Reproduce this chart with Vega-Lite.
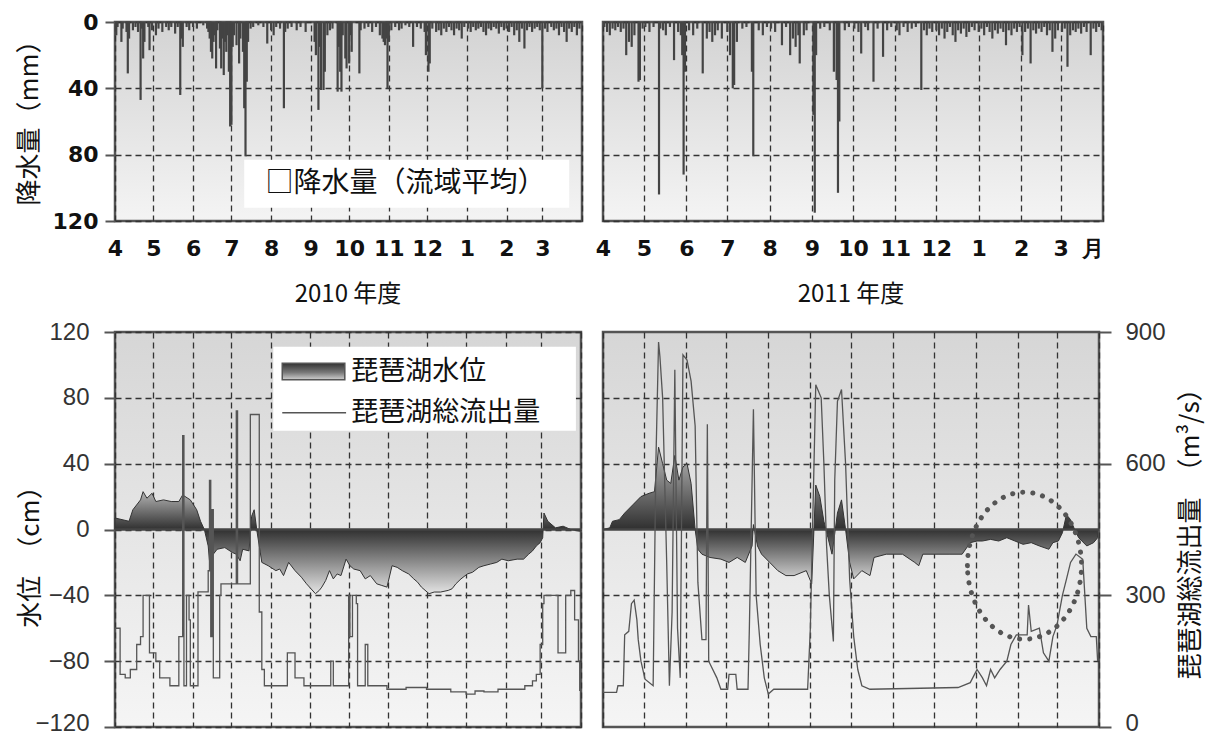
{
"$schema": "https://vega.github.io/schema/vega-lite/v6.json",
"background": "white",
"padding": {"left": 14, "top": 9, "right": 0, "bottom": 0},
"columns": 2,
"align": "none",
"bounds": "flush",
"spacing": {"row": 111, "column": 21},
"datasets": {
"rain2010": [
{"d":"2010-04-02","v":8},{"d":"2010-04-03","v":3},{"d":"2010-04-06","v":12},{"d":"2010-04-07","v":4},{"d":"2010-04-10","v":6},{"d":"2010-04-11","v":31},{"d":"2010-04-12","v":10},{"d":"2010-04-15","v":5},{"d":"2010-04-17","v":3},{"d":"2010-04-19","v":6},{"d":"2010-04-21","v":47},{"d":"2010-04-22","v":4},{"d":"2010-04-23","v":22},{"d":"2010-04-24","v":12},{"d":"2010-04-27","v":3},{"d":"2010-04-28","v":17},{"d":"2010-04-30","v":5},
{"d":"2010-05-03","v":8},{"d":"2010-05-05","v":4},{"d":"2010-05-08","v":6},{"d":"2010-05-11","v":3},{"d":"2010-05-13","v":5},{"d":"2010-05-15","v":3},{"d":"2010-05-18","v":7},{"d":"2010-05-20","v":3},{"d":"2010-05-22","v":44},{"d":"2010-05-23","v":10},{"d":"2010-05-24","v":15},{"d":"2010-05-27","v":3},{"d":"2010-05-29","v":5},
{"d":"2010-06-01","v":3},{"d":"2010-06-04","v":4},{"d":"2010-06-09","v":2},{"d":"2010-06-12","v":4},{"d":"2010-06-13","v":6},{"d":"2010-06-14","v":10},{"d":"2010-06-15","v":18},{"d":"2010-06-16","v":22},{"d":"2010-06-17","v":12},{"d":"2010-06-18","v":8},{"d":"2010-06-19","v":28},{"d":"2010-06-20","v":5},{"d":"2010-06-22","v":16},{"d":"2010-06-23","v":28},{"d":"2010-06-24","v":10},{"d":"2010-06-25","v":32},{"d":"2010-06-26","v":12},{"d":"2010-06-27","v":18},{"d":"2010-06-28","v":8},{"d":"2010-06-29","v":30},{"d":"2010-06-30","v":63},
{"d":"2010-07-01","v":62},{"d":"2010-07-02","v":15},{"d":"2010-07-03","v":8},{"d":"2010-07-05","v":14},{"d":"2010-07-07","v":25},{"d":"2010-07-08","v":10},{"d":"2010-07-10","v":18},{"d":"2010-07-11","v":52},{"d":"2010-07-12","v":81},{"d":"2010-07-13","v":36},{"d":"2010-07-14","v":12},{"d":"2010-07-16","v":4},{"d":"2010-07-18","v":3},{"d":"2010-07-22","v":2},{"d":"2010-07-26","v":3},{"d":"2010-07-29","v":13},
{"d":"2010-08-01","v":5},{"d":"2010-08-03","v":8},{"d":"2010-08-05","v":3},{"d":"2010-08-08","v":4},{"d":"2010-08-11","v":52},{"d":"2010-08-12","v":6},{"d":"2010-08-14","v":4},{"d":"2010-08-17","v":3},{"d":"2010-08-21","v":5},{"d":"2010-08-24","v":3},{"d":"2010-08-28","v":6},
{"d":"2010-09-04","v":12},{"d":"2010-09-05","v":20},{"d":"2010-09-07","v":53},{"d":"2010-09-08","v":15},{"d":"2010-09-09","v":41},{"d":"2010-09-11","v":41},{"d":"2010-09-12","v":30},{"d":"2010-09-14","v":8},{"d":"2010-09-16","v":5},{"d":"2010-09-18","v":4},{"d":"2010-09-22","v":42},{"d":"2010-09-23","v":15},{"d":"2010-09-24","v":30},{"d":"2010-09-25","v":42},{"d":"2010-09-26","v":8},{"d":"2010-09-28","v":22},{"d":"2010-09-29","v":28},
{"d":"2010-10-01","v":25},{"d":"2010-10-02","v":8},{"d":"2010-10-03","v":18},{"d":"2010-10-09","v":31},{"d":"2010-10-10","v":5},{"d":"2010-10-13","v":4},{"d":"2010-10-16","v":3},{"d":"2010-10-19","v":6},{"d":"2010-10-22","v":3},{"d":"2010-10-25","v":8},{"d":"2010-10-27","v":10},{"d":"2010-10-28","v":12},{"d":"2010-10-29","v":14},{"d":"2010-10-30","v":10},{"d":"2010-10-31","v":40},
{"d":"2010-11-01","v":12},{"d":"2010-11-03","v":5},{"d":"2010-11-06","v":3},{"d":"2010-11-09","v":5},{"d":"2010-11-11","v":4},{"d":"2010-11-14","v":2},{"d":"2010-11-17","v":3},{"d":"2010-11-20","v":15},{"d":"2010-11-23","v":3},{"d":"2010-11-26","v":4},{"d":"2010-11-29","v":6},{"d":"2010-11-30","v":20},
{"d":"2010-12-02","v":30},{"d":"2010-12-03","v":25},{"d":"2010-12-05","v":4},{"d":"2010-12-08","v":6},{"d":"2010-12-10","v":5},{"d":"2010-12-12","v":8},{"d":"2010-12-14","v":4},{"d":"2010-12-16","v":6},{"d":"2010-12-18","v":3},{"d":"2010-12-20","v":5},{"d":"2010-12-22","v":8},{"d":"2010-12-24","v":4},{"d":"2010-12-26","v":5},{"d":"2010-12-28","v":10},{"d":"2010-12-30","v":3},
{"d":"2011-01-02","v":4},{"d":"2011-01-04","v":6},{"d":"2011-01-06","v":3},{"d":"2011-01-08","v":5},{"d":"2011-01-10","v":4},{"d":"2011-01-12","v":3},{"d":"2011-01-14","v":6},{"d":"2011-01-16","v":8},{"d":"2011-01-18","v":4},{"d":"2011-01-20","v":5},{"d":"2011-01-22","v":3},{"d":"2011-01-24","v":4},{"d":"2011-01-26","v":7},{"d":"2011-01-28","v":3},{"d":"2011-01-30","v":5},
{"d":"2011-02-01","v":4},{"d":"2011-02-03","v":6},{"d":"2011-02-05","v":3},{"d":"2011-02-07","v":8},{"d":"2011-02-09","v":5},{"d":"2011-02-11","v":12},{"d":"2011-02-13","v":4},{"d":"2011-02-15","v":16},{"d":"2011-02-17","v":5},{"d":"2011-02-19","v":3},{"d":"2011-02-21","v":6},{"d":"2011-02-23","v":4},{"d":"2011-02-25","v":3},{"d":"2011-02-27","v":5},
{"d":"2011-03-01","v":40},{"d":"2011-03-03","v":4},{"d":"2011-03-05","v":6},{"d":"2011-03-08","v":3},{"d":"2011-03-10","v":5},{"d":"2011-03-12","v":4},{"d":"2011-03-14","v":8},{"d":"2011-03-16","v":3},{"d":"2011-03-18","v":6},{"d":"2011-03-20","v":12},{"d":"2011-03-22","v":4},{"d":"2011-03-24","v":6},{"d":"2011-03-26","v":3},{"d":"2011-03-28","v":8},{"d":"2011-03-30","v":4}
],
"rain2011": [
{"d":"2011-04-02","v":3},{"d":"2011-04-04","v":6},{"d":"2011-04-06","v":8},{"d":"2011-04-08","v":4},{"d":"2011-04-10","v":5},{"d":"2011-04-12","v":3},{"d":"2011-04-14","v":6},{"d":"2011-04-16","v":4},{"d":"2011-04-18","v":20},{"d":"2011-04-20","v":12},{"d":"2011-04-22","v":15},{"d":"2011-04-24","v":8},{"d":"2011-04-27","v":36},{"d":"2011-04-28","v":35},{"d":"2011-04-30","v":4},
{"d":"2011-05-02","v":3},{"d":"2011-05-05","v":6},{"d":"2011-05-08","v":3},{"d":"2011-05-12","v":104},{"d":"2011-05-13","v":4},{"d":"2011-05-15","v":5},{"d":"2011-05-17","v":8},{"d":"2011-05-20","v":3},{"d":"2011-05-23","v":23},{"d":"2011-05-26","v":6},{"d":"2011-05-28","v":8},{"d":"2011-05-29","v":20},{"d":"2011-05-30","v":92},{"d":"2011-05-31","v":30},
{"d":"2011-06-03","v":5},{"d":"2011-06-06","v":8},{"d":"2011-06-09","v":4},{"d":"2011-06-13","v":31},{"d":"2011-06-16","v":10},{"d":"2011-06-18","v":6},{"d":"2011-06-20","v":12},{"d":"2011-06-22","v":8},{"d":"2011-06-24","v":5},{"d":"2011-06-27","v":10},
{"d":"2011-07-01","v":6},{"d":"2011-07-03","v":20},{"d":"2011-07-05","v":40},{"d":"2011-07-06","v":38},{"d":"2011-07-08","v":12},{"d":"2011-07-12","v":4},{"d":"2011-07-15","v":3},{"d":"2011-07-19","v":30},{"d":"2011-07-20","v":81},{"d":"2011-07-24","v":5},{"d":"2011-07-27","v":8},{"d":"2011-07-30","v":3},
{"d":"2011-08-02","v":4},{"d":"2011-08-05","v":6},{"d":"2011-08-10","v":14},{"d":"2011-08-13","v":3},{"d":"2011-08-16","v":20},{"d":"2011-08-18","v":10},{"d":"2011-08-20","v":15},{"d":"2011-08-22","v":8},{"d":"2011-08-23","v":25},{"d":"2011-08-26","v":8},{"d":"2011-08-28","v":5},
{"d":"2011-09-02","v":56},{"d":"2011-09-03","v":115},{"d":"2011-09-04","v":20},{"d":"2011-09-07","v":4},{"d":"2011-09-10","v":3},{"d":"2011-09-14","v":5},{"d":"2011-09-17","v":30},{"d":"2011-09-19","v":35},{"d":"2011-09-20","v":103},{"d":"2011-09-21","v":60},{"d":"2011-09-25","v":5},{"d":"2011-09-28","v":3},
{"d":"2011-10-02","v":4},{"d":"2011-10-05","v":6},{"d":"2011-10-07","v":19},{"d":"2011-10-10","v":3},{"d":"2011-10-12","v":5},{"d":"2011-10-16","v":36},{"d":"2011-10-19","v":4},{"d":"2011-10-23","v":21},{"d":"2011-10-26","v":5},{"d":"2011-10-29","v":3},
{"d":"2011-11-02","v":5},{"d":"2011-11-04","v":8},{"d":"2011-11-07","v":3},{"d":"2011-11-10","v":6},{"d":"2011-11-13","v":4},{"d":"2011-11-16","v":3},{"d":"2011-11-20","v":41},{"d":"2011-11-22","v":5},{"d":"2011-11-24","v":8},{"d":"2011-11-26","v":4},{"d":"2011-11-28","v":6},
{"d":"2011-12-01","v":5},{"d":"2011-12-03","v":8},{"d":"2011-12-05","v":4},{"d":"2011-12-07","v":10},{"d":"2011-12-09","v":6},{"d":"2011-12-11","v":3},{"d":"2011-12-13","v":8},{"d":"2011-12-15","v":12},{"d":"2011-12-17","v":5},{"d":"2011-12-19","v":7},{"d":"2011-12-21","v":4},{"d":"2011-12-23","v":9},{"d":"2011-12-25","v":6},{"d":"2011-12-27","v":3},{"d":"2011-12-29","v":5},
{"d":"2012-01-01","v":6},{"d":"2012-01-03","v":4},{"d":"2012-01-05","v":8},{"d":"2012-01-07","v":3},{"d":"2012-01-09","v":6},{"d":"2012-01-11","v":10},{"d":"2012-01-13","v":5},{"d":"2012-01-15","v":7},{"d":"2012-01-17","v":4},{"d":"2012-01-19","v":6},{"d":"2012-01-21","v":14},{"d":"2012-01-23","v":5},{"d":"2012-01-25","v":8},{"d":"2012-01-27","v":4},{"d":"2012-01-29","v":6},{"d":"2012-01-31","v":3},
{"d":"2012-02-02","v":20},{"d":"2012-02-04","v":6},{"d":"2012-02-06","v":4},{"d":"2012-02-08","v":25},{"d":"2012-02-10","v":5},{"d":"2012-02-12","v":7},{"d":"2012-02-14","v":4},{"d":"2012-02-16","v":6},{"d":"2012-02-18","v":3},{"d":"2012-02-20","v":8},{"d":"2012-02-22","v":5},{"d":"2012-02-24","v":18},{"d":"2012-02-26","v":10},{"d":"2012-02-28","v":5},
{"d":"2012-03-02","v":6},{"d":"2012-03-04","v":4},{"d":"2012-03-06","v":27},{"d":"2012-03-08","v":8},{"d":"2012-03-10","v":5},{"d":"2012-03-12","v":6},{"d":"2012-03-14","v":4},{"d":"2012-03-16","v":7},{"d":"2012-03-18","v":3},{"d":"2012-03-20","v":6},{"d":"2012-03-23","v":20},{"d":"2012-03-25","v":4},{"d":"2012-03-27","v":6},{"d":"2012-03-29","v":3},{"d":"2012-03-31","v":5}
],
"level2010": [
{"d":"2010-04-01","h":7},{"d":"2010-04-12","h":5},{"d":"2010-04-15","h":12},{"d":"2010-04-21","h":18},{"d":"2010-04-23","h":23},{"d":"2010-04-26","h":19},{"d":"2010-04-30","h":22},{"d":"2010-05-03","h":17},{"d":"2010-05-09","h":18},{"d":"2010-05-15","h":17},{"d":"2010-05-21","h":17},{"d":"2010-05-24","h":21},{"d":"2010-05-30","h":18},{"d":"2010-06-04","h":12},{"d":"2010-06-07","h":5},{"d":"2010-06-10","h":0},{"d":"2010-06-13","h":-10},{"d":"2010-06-14","h":-19},{"d":"2010-06-17","h":-15},{"d":"2010-06-20","h":-12},{"d":"2010-06-26","h":-11},{"d":"2010-07-02","h":-14},{"d":"2010-07-05","h":-15},{"d":"2010-07-08","h":-19},{"d":"2010-07-10","h":-12},{"d":"2010-07-15","h":-13},{"d":"2010-07-17","h":8},{"d":"2010-07-19","h":12},{"d":"2010-07-21","h":0},{"d":"2010-07-25","h":-20},{"d":"2010-07-30","h":-22},{"d":"2010-08-05","h":-25},{"d":"2010-08-08","h":-24},{"d":"2010-08-11","h":-28},{"d":"2010-08-15","h":-20},{"d":"2010-08-20","h":-25},{"d":"2010-08-25","h":-29},{"d":"2010-08-29","h":-33},{"d":"2010-09-05","h":-39},{"d":"2010-09-08","h":-37},{"d":"2010-09-10","h":-35},{"d":"2010-09-13","h":-31},{"d":"2010-09-16","h":-25},{"d":"2010-09-19","h":-30},{"d":"2010-09-22","h":-27},{"d":"2010-09-25","h":-28},{"d":"2010-09-29","h":-18},{"d":"2010-10-02","h":-22},{"d":"2010-10-05","h":-24},{"d":"2010-10-10","h":-25},{"d":"2010-10-14","h":-30},{"d":"2010-10-18","h":-28},{"d":"2010-10-23","h":-33},{"d":"2010-10-27","h":-34},{"d":"2010-10-31","h":-35},{"d":"2010-11-04","h":-22},{"d":"2010-11-08","h":-23},{"d":"2010-11-12","h":-25},{"d":"2010-11-17","h":-27},{"d":"2010-11-21","h":-30},{"d":"2010-11-24","h":-32},{"d":"2010-11-27","h":-35},{"d":"2010-12-03","h":-39},{"d":"2010-12-07","h":-38},{"d":"2010-12-12","h":-38},{"d":"2010-12-18","h":-37},{"d":"2010-12-21","h":-36},{"d":"2010-12-24","h":-33},{"d":"2010-12-28","h":-30},{"d":"2011-01-02","h":-27},{"d":"2011-01-06","h":-26},{"d":"2011-01-11","h":-23},{"d":"2011-01-15","h":-22},{"d":"2011-01-20","h":-21},{"d":"2011-01-25","h":-20},{"d":"2011-01-29","h":-18},{"d":"2011-02-03","h":-19},{"d":"2011-02-10","h":-18},{"d":"2011-02-15","h":-18},{"d":"2011-02-19","h":-15},{"d":"2011-02-22","h":-13},{"d":"2011-02-25","h":-10},{"d":"2011-02-28","h":-8},{"d":"2011-03-02","h":-5},{"d":"2011-03-03","h":10},{"d":"2011-03-06","h":5},{"d":"2011-03-12","h":1},{"d":"2011-03-18","h":2},{"d":"2011-03-24","h":0},{"d":"2011-03-31","h":-1}
],
"flow2010": [
{"d":"2010-04-01","q":225},{"d":"2010-04-05","q":120},{"d":"2010-04-09","q":112},{"d":"2010-04-13","q":131},{"d":"2010-04-18","q":188},{"d":"2010-04-21","q":206},{"d":"2010-04-23","q":300},{"d":"2010-04-28","q":169},{"d":"2010-05-03","q":150},{"d":"2010-05-06","q":112},{"d":"2010-05-14","q":94},{"d":"2010-05-21","q":206},{"d":"2010-05-24","q":664},{"d":"2010-05-25","q":94},{"d":"2010-05-27","q":300},{"d":"2010-05-29","q":244},{"d":"2010-05-30","q":94},{"d":"2010-06-05","q":308},{"d":"2010-06-13","q":356},{"d":"2010-06-14","q":562},{"d":"2010-06-15","q":206},{"d":"2010-06-16","q":495},{"d":"2010-06-17","q":112},{"d":"2010-06-22","q":300},{"d":"2010-06-23","q":326},{"d":"2010-07-05","q":720},{"d":"2010-07-06","q":326},{"d":"2010-07-16","q":712},{"d":"2010-07-23","q":262},{"d":"2010-07-25","q":131},{"d":"2010-07-27","q":94},{"d":"2010-08-14","q":169},{"d":"2010-08-20","q":112},{"d":"2010-08-27","q":94},{"d":"2010-09-17","q":150},{"d":"2010-09-19","q":94},{"d":"2010-10-01","q":300},{"d":"2010-10-02","q":206},{"d":"2010-10-04","q":300},{"d":"2010-10-07","q":281},{"d":"2010-10-08","q":94},{"d":"2010-10-14","q":188},{"d":"2010-10-16","q":94},{"d":"2010-10-31","q":86},{"d":"2010-11-15","q":90},{"d":"2010-12-01","q":86},{"d":"2010-12-20","q":80},{"d":"2011-01-01","q":75},{"d":"2011-01-08","q":82},{"d":"2011-01-15","q":80},{"d":"2011-01-26","q":86},{"d":"2011-02-13","q":86},{"d":"2011-02-16","q":94},{"d":"2011-02-22","q":105},{"d":"2011-02-25","q":120},{"d":"2011-02-28","q":188},{"d":"2011-03-02","q":281},{"d":"2011-03-03","q":300},{"d":"2011-03-14","q":169},{"d":"2011-03-20","q":300},{"d":"2011-03-24","q":311},{"d":"2011-03-27","q":244},{"d":"2011-03-30","q":150},{"d":"2011-03-31","q":82}
],
"level2011": [
{"d":"2011-04-01","h":0},{"d":"2011-04-06","h":1},{"d":"2011-04-08","h":5},{"d":"2011-04-13","h":6},{"d":"2011-04-17","h":10},{"d":"2011-04-23","h":15},{"d":"2011-04-29","h":20},{"d":"2011-05-05","h":22},{"d":"2011-05-09","h":23},{"d":"2011-05-12","h":50},{"d":"2011-05-15","h":40},{"d":"2011-05-18","h":30},{"d":"2011-05-21","h":28},{"d":"2011-05-24","h":45},{"d":"2011-05-27","h":30},{"d":"2011-05-30","h":38},{"d":"2011-06-02","h":40},{"d":"2011-06-05","h":28},{"d":"2011-06-08","h":0},{"d":"2011-06-10","h":-12},{"d":"2011-06-13","h":-15},{"d":"2011-06-19","h":-17},{"d":"2011-06-27","h":-18},{"d":"2011-07-03","h":-20},{"d":"2011-07-09","h":-17},{"d":"2011-07-15","h":-20},{"d":"2011-07-20","h":-10},{"d":"2011-07-21","h":3},{"d":"2011-07-24","h":-10},{"d":"2011-07-27","h":-15},{"d":"2011-08-02","h":-20},{"d":"2011-08-08","h":-25},{"d":"2011-08-14","h":-28},{"d":"2011-08-20","h":-28},{"d":"2011-08-29","h":-25},{"d":"2011-09-02","h":-33},{"d":"2011-09-05","h":27},{"d":"2011-09-08","h":20},{"d":"2011-09-11","h":5},{"d":"2011-09-14","h":-5},{"d":"2011-09-17","h":-15},{"d":"2011-09-21","h":10},{"d":"2011-09-24","h":18},{"d":"2011-09-27","h":0},{"d":"2011-09-30","h":-20},{"d":"2011-10-03","h":-30},{"d":"2011-10-09","h":-25},{"d":"2011-10-15","h":-28},{"d":"2011-10-18","h":-17},{"d":"2011-10-27","h":-15},{"d":"2011-11-08","h":-15},{"d":"2011-11-17","h":-20},{"d":"2011-11-20","h":-22},{"d":"2011-11-23","h":-15},{"d":"2011-12-02","h":-15},{"d":"2011-12-13","h":-15},{"d":"2011-12-22","h":-15},{"d":"2011-12-28","h":-8},{"d":"2012-01-02","h":-7},{"d":"2012-01-06","h":-7},{"d":"2012-01-12","h":-6},{"d":"2012-01-18","h":-7},{"d":"2012-01-24","h":-5},{"d":"2012-01-30","h":-7},{"d":"2012-02-05","h":-9},{"d":"2012-02-11","h":-8},{"d":"2012-02-17","h":-10},{"d":"2012-02-24","h":-12},{"d":"2012-02-27","h":-8},{"d":"2012-03-02","h":-7},{"d":"2012-03-05","h":-2},{"d":"2012-03-08","h":9},{"d":"2012-03-11","h":6},{"d":"2012-03-14","h":0},{"d":"2012-03-17","h":-5},{"d":"2012-03-23","h":-10},{"d":"2012-03-28","h":-8},{"d":"2012-03-31","h":-5}
],
"flow2011": [
{"d":"2011-04-01","q":79},{"d":"2011-04-11","q":79},{"d":"2011-04-12","q":94},{"d":"2011-04-16","q":94},{"d":"2011-04-17","q":210},{"d":"2011-04-20","q":218},{"d":"2011-04-22","q":281},{"d":"2011-04-24","q":289},{"d":"2011-04-26","q":244},{"d":"2011-04-27","q":199},{"d":"2011-04-29","q":150},{"d":"2011-05-02","q":109},{"d":"2011-05-08","q":94},{"d":"2011-05-10","q":600},{"d":"2011-05-12","q":877},{"d":"2011-05-13","q":844},{"d":"2011-05-15","q":750},{"d":"2011-05-18","q":375},{"d":"2011-05-20","q":94},{"d":"2011-05-22","q":262},{"d":"2011-05-24","q":814},{"d":"2011-05-26","q":225},{"d":"2011-05-28","q":112},{"d":"2011-05-30","q":848},{"d":"2011-06-02","q":836},{"d":"2011-06-05","q":788},{"d":"2011-06-08","q":686},{"d":"2011-06-10","q":330},{"d":"2011-06-13","q":199},{"d":"2011-06-16","q":199},{"d":"2011-06-17","q":690},{"d":"2011-06-18","q":150},{"d":"2011-06-24","q":112},{"d":"2011-06-27","q":86},{"d":"2011-07-02","q":86},{"d":"2011-07-03","q":120},{"d":"2011-07-08","q":120},{"d":"2011-07-09","q":86},{"d":"2011-07-17","q":86},{"d":"2011-07-18","q":225},{"d":"2011-07-21","q":724},{"d":"2011-07-23","q":300},{"d":"2011-07-26","q":188},{"d":"2011-07-29","q":112},{"d":"2011-08-01","q":75},{"d":"2011-08-05","q":86},{"d":"2011-08-30","q":86},{"d":"2011-09-01","q":225},{"d":"2011-09-05","q":780},{"d":"2011-09-09","q":750},{"d":"2011-09-11","q":600},{"d":"2011-09-13","q":412},{"d":"2011-09-15","q":300},{"d":"2011-09-18","q":195},{"d":"2011-09-19","q":562},{"d":"2011-09-21","q":742},{"d":"2011-09-24","q":769},{"d":"2011-09-27","q":600},{"d":"2011-09-30","q":337},{"d":"2011-10-03","q":206},{"d":"2011-10-06","q":131},{"d":"2011-10-09","q":94},{"d":"2011-10-15","q":86},{"d":"2011-12-19","q":90},{"d":"2011-12-28","q":101},{"d":"2012-01-02","q":131},{"d":"2012-01-06","q":112},{"d":"2012-01-09","q":94},{"d":"2012-01-12","q":131},{"d":"2012-01-15","q":112},{"d":"2012-01-19","q":131},{"d":"2012-01-24","q":150},{"d":"2012-01-27","q":188},{"d":"2012-01-31","q":210},{"d":"2012-02-08","q":210},{"d":"2012-02-09","q":278},{"d":"2012-02-11","q":218},{"d":"2012-02-17","q":225},{"d":"2012-02-20","q":169},{"d":"2012-02-24","q":150},{"d":"2012-02-27","q":206},{"d":"2012-03-01","q":232},{"d":"2012-03-05","q":300},{"d":"2012-03-08","q":337},{"d":"2012-03-11","q":375},{"d":"2012-03-15","q":394},{"d":"2012-03-20","q":382},{"d":"2012-03-23","q":225},{"d":"2012-03-26","q":206},{"d":"2012-03-30","q":206},{"d":"2012-03-31","q":150}
]
},
"concat": [
 {"width": 467, "height": 199,
  "view": {"fill": {"gradient": "linear", "x1": 0, "y1": 0, "x2": 0, "y2": 1, "stops": [{"offset": 0, "color": "#d3d3d3"}, {"offset": 1, "color": "#f4f4f4"}]}, "stroke": "#555", "strokeWidth": 2.5},
  "layer": [
   {"data": {"name": "rain2010"}, "mark": {"type": "rule", "color": "#444", "strokeWidth": 2.2},
    "encoding": {
     "x": {"field": "d", "type": "temporal",
       "scale": {"type": "utc", "domain": [{"year": 2010, "month": 4, "date": 1, "utc": true}, {"year": 2011, "month": 4, "date": 1, "utc": true}], "nice": false},
       "axis": {"tickCount": "month", "grid": true, "ticks": false, "domain": false, "title": null,
         "labelExpr": "utcyear(datum.value) == 2011 && utcmonth(datum.value) == 3 ? '' : '' + (utcmonth(datum.value) + 1)",
         "labelFont": "DejaVu Sans", "labelFontWeight": "bold", "labelFontSize": 22, "labelColor": "#111", "labelPadding": 17,
         "labelOverlap": false, "labelBound": false, "labelFlush": false}},
     "y": {"field": "v", "type": "quantitative", "scale": {"domain": [0, 120], "reverse": true, "nice": false},
       "axis": {"values": [0, 40, 80, 120], "grid": true, "tickSize": 10, "labelPadding": 7,
         "labelFont": "DejaVu Sans", "labelFontWeight": "bold", "labelFontSize": 22, "labelColor": "#111",
         "title": "降水量（mm）", "titleFont": "Noto Sans CJK JP", "titleFontSize": 26, "titleFontWeight": "normal", "titleColor": "#111",
         "titleAngle": 270, "titleBaseline": "bottom", "titleX": -73, "titleY": 94}},
     "y2": {"datum": 0}
    }},
   {"data": {"values": [{}]}, "mark": {"type": "rect", "color": "white", "opacity": 1},
    "encoding": {
     "x": {"datum": {"year": 2010, "month": 7, "date": 11, "utc": true}, "type": "temporal", "scale": {"type": "utc", "domain": [{"year": 2010, "month": 4, "date": 1, "utc": true}, {"year": 2011, "month": 4, "date": 1, "utc": true}], "nice": false}},
     "x2": {"datum": {"year": 2011, "month": 3, "date": 22, "utc": true}},
     "y": {"datum": 83, "type": "quantitative", "scale": {"domain": [0, 120], "reverse": true, "nice": false}},
     "y2": {"datum": 112}
    }},
   {"data": {"values": [{}]}, "mark": {"type": "text", "text": "□降水量（流域平均）", "font": "Noto Sans CJK JP", "fontSize": 28, "color": "#111", "align": "center", "baseline": "middle"},
    "encoding": {
     "x": {"datum": {"year": 2010, "month": 11, "date": 14, "utc": true}, "type": "temporal", "scale": {"type": "utc", "domain": [{"year": 2010, "month": 4, "date": 1, "utc": true}, {"year": 2011, "month": 4, "date": 1, "utc": true}], "nice": false}},
     "y": {"datum": 97.5, "type": "quantitative", "scale": {"domain": [0, 120], "reverse": true, "nice": false}}
    }}
  ]},
 {"width": 500, "height": 199,
  "view": {"fill": {"gradient": "linear", "x1": 0, "y1": 0, "x2": 0, "y2": 1, "stops": [{"offset": 0, "color": "#d3d3d3"}, {"offset": 1, "color": "#f4f4f4"}]}, "stroke": "#555", "strokeWidth": 2.5},
  "data": {"name": "rain2011"},
  "mark": {"type": "rule", "color": "#444", "strokeWidth": 2.2},
  "encoding": {
   "x": {"field": "d", "type": "temporal",
     "scale": {"type": "utc", "domain": [{"year": 2011, "month": 4, "date": 1, "utc": true}, {"year": 2012, "month": 4, "date": 1, "utc": true}], "nice": false},
     "axis": {"tickCount": "month", "grid": true, "ticks": false, "domain": false, "title": null,
       "labelExpr": "utcyear(datum.value) == 2012 && utcmonth(datum.value) == 3 ? '月' : '' + (utcmonth(datum.value) + 1)",
       "labelAlign": {"condition": {"test": "utcyear(datum.value) == 2012 && utcmonth(datum.value) == 3", "value": "right"}, "value": "center"},
       "labelFont": "DejaVu Sans", "labelFontWeight": "bold", "labelFontSize": 22, "labelColor": "#111", "labelPadding": 17,
       "labelOverlap": false, "labelBound": false, "labelFlush": false}},
   "y": {"field": "v", "type": "quantitative", "scale": {"domain": [0, 120], "reverse": true, "nice": false},
     "axis": {"values": [0, 40, 80, 120], "grid": true, "labels": false, "ticks": false, "domain": false, "title": null}},
   "y2": {"datum": 0}
  }},
 {"width": 466, "height": 395,
  "title": {"text": "2010 年度", "font": "Noto Sans CJK JP", "fontSize": 24, "fontWeight": "normal", "color": "#111", "offset": 13},
  "view": {"fill": {"gradient": "linear", "x1": 0, "y1": 0, "x2": 0, "y2": 1, "stops": [{"offset": 0, "color": "#d6d6d6"}, {"offset": 1, "color": "#f5f5f5"}]}, "stroke": "#555", "strokeWidth": 2.5},
  "resolve": {"scale": {"y": "independent"}},
  "layer": [
   {"layer": [
    {"data": {"name": "level2010"},
     "mark": {"type": "area", "interpolate": "linear", "stroke": "#333", "strokeWidth": 1,
       "fill": {"gradient": "linear", "x1": 0, "y1": 0, "x2": 0, "y2": 1, "stops": [{"offset": 0, "color": "#b4b4b4"}, {"offset": 0.37, "color": "#303030"}, {"offset": 1, "color": "#e4e4e4"}]}},
     "encoding": {
      "x": {"field": "d", "type": "temporal", "scale": {"type": "utc", "domain": [{"year": 2010, "month": 4, "date": 1, "utc": true}, {"year": 2011, "month": 4, "date": 1, "utc": true}], "nice": false},
        "axis": {"tickCount": "month", "grid": true, "labels": false, "ticks": false, "domain": false, "title": null}},
      "y": {"field": "h", "type": "quantitative", "scale": {"domain": [-120, 120], "nice": false},
        "axis": {"values": [-120, -80, -40, 0, 40, 80, 120], "grid": true, "tickSize": 11, "labelPadding": 15,
          "labelOffset": {"condition": {"test": "datum.value == -120", "value": -4}, "value": 0},
          "labelFont": "Liberation Sans", "labelFontSize": 24, "labelColor": "#333",
          "title": "水位　（cm）", "titleFont": "Noto Sans CJK JP", "titleFontSize": 26, "titleFontWeight": "normal", "titleColor": "#111",
          "titleAngle": 270, "titleBaseline": "bottom", "titleX": -72, "titleY": 218}},
      "y2": {"datum": 0}
     }},
    {"data": {"values": [{}]}, "mark": {"type": "rule", "color": "#444", "strokeWidth": 2.5},
     "encoding": {"y": {"datum": 0, "type": "quantitative", "scale": {"domain": [-120, 120], "nice": false}}}},
    {"data": {"values": [{}]}, "mark": {"type": "rect", "color": "white", "opacity": 1},
     "encoding": {
      "x": {"datum": {"year": 2010, "month": 8, "date": 3, "utc": true}, "type": "temporal", "scale": {"type": "utc", "domain": [{"year": 2010, "month": 4, "date": 1, "utc": true}, {"year": 2011, "month": 4, "date": 1, "utc": true}], "nice": false}},
      "x2": {"datum": {"year": 2011, "month": 3, "date": 28, "utc": true}},
      "y": {"datum": 60, "type": "quantitative", "scale": {"domain": [-120, 120], "nice": false}},
      "y2": {"datum": 111}
     }},
    {"data": {"values": [{}]}, "mark": {"type": "rect", "stroke": "#555", "strokeWidth": 1.5,
       "fill": {"gradient": "linear", "x1": 0, "y1": 0, "x2": 0, "y2": 1, "stops": [{"offset": 0, "color": "#333"}, {"offset": 0.55, "color": "#777"}, {"offset": 1, "color": "#cfcfcf"}]}},
     "encoding": {
      "x": {"datum": {"year": 2010, "month": 8, "date": 10, "utc": true}, "type": "temporal", "scale": {"type": "utc", "domain": [{"year": 2010, "month": 4, "date": 1, "utc": true}, {"year": 2011, "month": 4, "date": 1, "utc": true}], "nice": false}},
      "x2": {"datum": {"year": 2010, "month": 9, "date": 28, "utc": true}},
      "y": {"datum": 91, "type": "quantitative", "scale": {"domain": [-120, 120], "nice": false}},
      "y2": {"datum": 101}
     }},
    {"data": {"values": [{}]}, "mark": {"type": "rule", "color": "#555", "strokeWidth": 1.5},
     "encoding": {
      "x": {"datum": {"year": 2010, "month": 8, "date": 10, "utc": true}, "type": "temporal", "scale": {"type": "utc", "domain": [{"year": 2010, "month": 4, "date": 1, "utc": true}, {"year": 2011, "month": 4, "date": 1, "utc": true}], "nice": false}},
      "x2": {"datum": {"year": 2010, "month": 9, "date": 29, "utc": true}},
      "y": {"datum": 71, "type": "quantitative", "scale": {"domain": [-120, 120], "nice": false}}
     }},
    {"data": {"values": [{"t": "琵琶湖水位", "p": 95.5}, {"t": "琵琶湖総流出量", "p": 71}]},
     "mark": {"type": "text", "font": "Noto Sans CJK JP", "fontSize": 27, "color": "#111", "align": "left", "baseline": "middle"},
     "encoding": {
      "x": {"datum": {"year": 2010, "month": 10, "date": 3, "utc": true}, "type": "temporal", "scale": {"type": "utc", "domain": [{"year": 2010, "month": 4, "date": 1, "utc": true}, {"year": 2011, "month": 4, "date": 1, "utc": true}], "nice": false}},
      "y": {"field": "p", "type": "quantitative", "scale": {"domain": [-120, 120], "nice": false}},
      "text": {"field": "t"}
     }}
   ]},
   {"data": {"name": "flow2010"}, "mark": {"type": "line", "color": "#555", "strokeWidth": 1.3, "interpolate": "step-after"},
    "encoding": {
     "x": {"field": "d", "type": "temporal", "scale": {"type": "utc", "domain": [{"year": 2010, "month": 4, "date": 1, "utc": true}, {"year": 2011, "month": 4, "date": 1, "utc": true}], "nice": false}},
     "y": {"field": "q", "type": "quantitative", "scale": {"domain": [0, 900], "nice": false}, "axis": null}
    }}
  ]},
 {"width": 496, "height": 395,
  "title": {"text": "2011 年度", "font": "Noto Sans CJK JP", "fontSize": 24, "fontWeight": "normal", "color": "#111", "offset": 13},
  "view": {"fill": {"gradient": "linear", "x1": 0, "y1": 0, "x2": 0, "y2": 1, "stops": [{"offset": 0, "color": "#d6d6d6"}, {"offset": 1, "color": "#f5f5f5"}]}, "stroke": "#555", "strokeWidth": 2.5},
  "resolve": {"scale": {"y": "independent"}},
  "layer": [
   {"layer": [
    {"data": {"name": "level2011"},
     "mark": {"type": "area", "interpolate": "linear", "stroke": "#333", "strokeWidth": 1,
       "fill": {"gradient": "linear", "x1": 0, "y1": 0, "x2": 0, "y2": 1, "stops": [{"offset": 0, "color": "#bcbcbc"}, {"offset": 0.6, "color": "#303030"}, {"offset": 1, "color": "#e0e0e0"}]}},
     "encoding": {
      "x": {"field": "d", "type": "temporal", "scale": {"type": "utc", "domain": [{"year": 2011, "month": 4, "date": 1, "utc": true}, {"year": 2012, "month": 4, "date": 1, "utc": true}], "nice": false},
        "axis": {"tickCount": "month", "grid": true, "labels": false, "ticks": false, "domain": false, "title": null}},
      "y": {"field": "h", "type": "quantitative", "scale": {"domain": [-120, 120], "nice": false},
        "axis": {"values": [-80, -40, 40, 80], "grid": true, "labels": false, "ticks": false, "domain": false, "title": null}},
      "y2": {"datum": 0}
     }},
    {"data": {"values": [{}]}, "mark": {"type": "rule", "color": "#444", "strokeWidth": 2.5},
     "encoding": {"y": {"datum": 0, "type": "quantitative", "scale": {"domain": [-120, 120], "nice": false}}}},
    {"data": {"values": [{}]},
     "mark": {"type": "point", "shape": "M -0.776 0 A 0.776 1 0 1 1 0.776 0 A 0.776 1 0 1 1 -0.776 0 Z", "size": 21609, "filled": false, "stroke": "#555", "strokeWidth": 5, "strokeDash": [0.1, 10], "strokeCap": "round", "opacity": 1},
     "encoding": {
      "x": {"datum": {"year": 2012, "month": 2, "date": 6, "utc": true}, "type": "temporal", "scale": {"type": "utc", "domain": [{"year": 2011, "month": 4, "date": 1, "utc": true}, {"year": 2012, "month": 4, "date": 1, "utc": true}], "nice": false}},
      "y": {"datum": -22, "type": "quantitative", "scale": {"domain": [-120, 120], "nice": false}}
     }}
   ]},
   {"data": {"name": "flow2011"}, "mark": {"type": "line", "color": "#555", "strokeWidth": 1.3, "interpolate": "linear"},
    "encoding": {
     "x": {"field": "d", "type": "temporal", "scale": {"type": "utc", "domain": [{"year": 2011, "month": 4, "date": 1, "utc": true}, {"year": 2012, "month": 4, "date": 1, "utc": true}], "nice": false}},
     "y": {"field": "q", "type": "quantitative", "scale": {"domain": [0, 900], "nice": false},
       "axis": {"orient": "right", "values": [0, 300, 600, 900], "grid": false, "tickSize": 12, "labelPadding": 14,
         "labelOffset": {"condition": {"test": "datum.value == 0", "value": -4}, "value": 0},
         "labelFont": "Liberation Sans", "labelFontSize": 24, "labelColor": "#333",
         "title": "琵琶湖総流出量　（m³/s）", "titleFont": "Noto Sans CJK JP", "titleFontSize": 26, "titleFontWeight": "normal", "titleColor": "#111",
         "titleAngle": 270, "titleBaseline": "bottom", "titleX": 104, "titleY": 195}}
    }}
  ]}
],
"config": {
 "font": "Noto Sans CJK JP",
 "axis": {"gridColor": "#333", "gridDash": [6, 4], "gridWidth": 1.3, "gridOpacity": 1, "tickColor": "#555", "tickWidth": 2, "domain": false},
 "view": {"stroke": "#555", "strokeWidth": 2.5}
}
}
